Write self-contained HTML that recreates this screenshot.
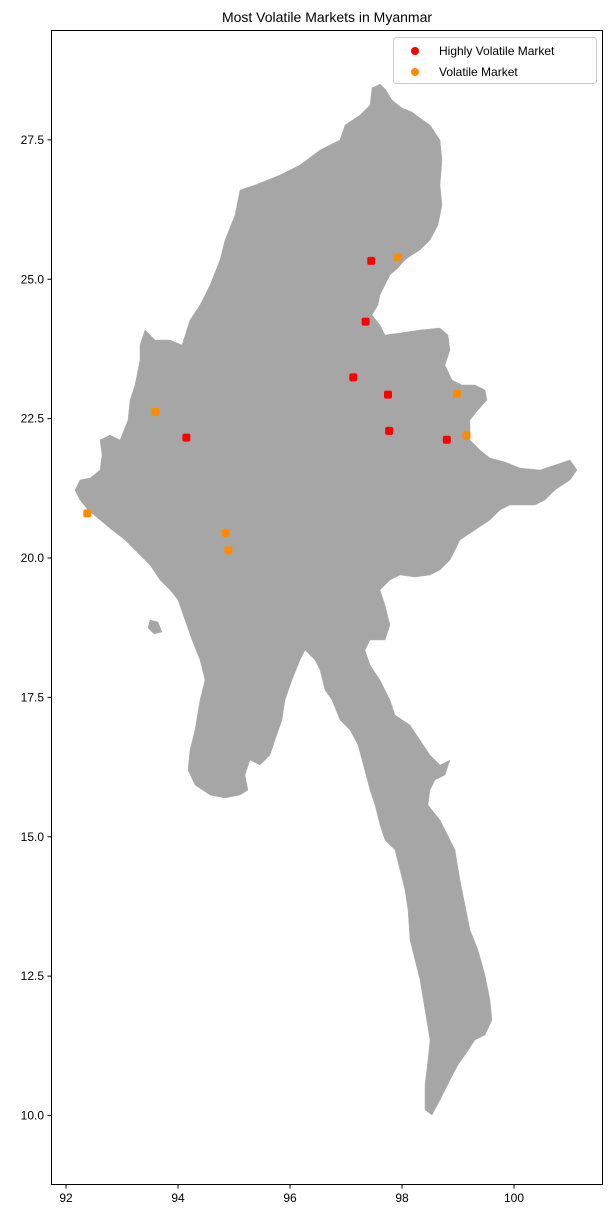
<!DOCTYPE html>
<html><head><meta charset="utf-8"><style>
body{margin:0;background:#fff;}
svg text{font-family:"Liberation Sans","DejaVu Sans",sans-serif;}
</style></head><body>
<svg id="chart" width="612" height="1219" viewBox="0 0 612 1219" xmlns="http://www.w3.org/2000/svg">
<rect width="612" height="1219" fill="#fff"/>
<text x="327" y="22" font-size="14" text-anchor="middle">Most Volatile Markets in Myanmar</text>
<path fill="#a6a6a6" stroke="#b0b0b0" stroke-width="0.5" d="M372,88 L380,84 386,90 392,100 402,108 412,112 420,118 430,125 440,140 442,160 440,185 442,205 438,225 430,240 420,250 412,255 405,260 398,268 390,275 385,285 380,295 378,305 372,315 380,325 385,335 400,333 420,330 440,328 448,335 450,350 445,365 452,380 462,385 475,385 485,390 487,400 478,410 470,420 470,440 480,450 490,458 505,462 520,468 540,470 555,465 570,460 577,470 570,480 555,490 545,500 535,505 525,505 510,505 500,510 490,520 475,530 460,540 450,560 440,570 430,575 415,577 400,575 390,580 380,590 385,605 390,625 385,640 370,640 365,650 370,665 380,680 390,700 395,715 410,725 420,740 430,755 440,765 450,760 445,775 435,780 430,790 428,805 440,820 445,830 455,850 460,880 465,905 470,930 478,950 485,975 490,1000 492,1020 485,1035 475,1040 465,1055 458,1065 450,1080 440,1100 432,1115 425,1110 425,1085 428,1060 430,1040 425,1010 420,980 415,960 410,940 408,910 405,890 400,870 395,850 385,840 380,825 375,805 370,790 362,760 358,745 350,730 340,720 332,700 325,690 320,670 315,660 305,650 300,660 292,680 285,700 282,720 275,740 270,755 260,765 250,760 245,775 248,790 240,795 225,798 210,795 195,785 188,770 190,750 195,730 200,700 205,680 200,660 192,640 185,620 178,600 170,590 160,580 150,565 140,555 125,540 112,530 100,520 88,510 80,500 75,490 80,480 90,478 100,470 102,455 100,440 110,435 120,440 128,420 130,400 135,385 140,360 140,345 145,330 155,340 170,340 182,345 190,320 200,305 210,285 220,260 225,240 235,215 240,190 255,185 280,175 300,165 320,150 340,140 345,125 360,115 370,105 Z M150,620 L158,622 162,632 154,634 148,628 Z"/>
<rect x="51.5" y="30.5" width="551" height="1154" fill="none" stroke="#000" stroke-width="1"/>
<g id="axes"></g>
<g id="points"></g>
<g>
<rect x="393.5" y="37.5" width="203" height="46" rx="3" fill="#fff" fill-opacity="0.8" stroke="#ccc"/>
<circle cx="415" cy="51" r="4" fill="#ff0000"/>
<text x="439" y="55" font-size="12">Highly Volatile Market</text>
<circle cx="415" cy="72" r="4" fill="#ff8c00"/>
<text x="439" y="76" font-size="12">Volatile Market</text>
</g>
</svg>
<script>
const xTicks=[92,94,96,98,100];
const yTicks=[10.0,12.5,15.0,17.5,20.0,22.5,25.0,27.5];
const highLon=[97.45,97.35,97.13,97.75,97.77,98.8,94.15];
const highLat=[25.33,24.24,23.24,22.93,22.28,22.12,22.16];
const volLon=[97.93,93.6,98.98,99.15,92.38,94.85,94.9];
const volLat=[25.39,22.62,22.95,22.2,20.8,20.45,20.14];
const NS="http://www.w3.org/2000/svg";
function sx(lon){return 66+(lon-92)*56;}
function sy(lat){return 558-(lat-20)*55.75;}
const ax=document.getElementById('axes');
function mk(t,a,p){const e=document.createElementNS(NS,t);for(const k in a)e.setAttribute(k,a[k]);p.appendChild(e);return e;}
xTicks.forEach(v=>{
 const x=sx(v);
 const l=mk('line',{x1:x,x2:x,y1:1184.5,y2:1188.5,stroke:'#000'},ax);
 
 
 const t=mk('text',{x:x,y:1202,'font-size':12,'text-anchor':'middle'},ax);
 t.textContent=String(v);
 
 
});
yTicks.forEach(v=>{
 const y=sy(v);
 const l=mk('line',{x1:47.5,x2:51.5,y1:y,y2:y,stroke:'#000'},ax);
 
 
 const t=mk('text',{x:44,y:y+4,'font-size':12,'text-anchor':'end'},ax);
 t.textContent=v.toFixed(1);
 
 
});
const pg=document.getElementById('points');
highLon.forEach((lo,i)=>{
 const c=mk('rect',{x:sx(lo)-4,y:sy(highLat[i])-4,width:8,height:8,rx:2,fill:'#ff0000'},pg);
 
 
});
volLon.forEach((lo,i)=>{
 const c=mk('rect',{x:sx(lo)-4,y:sy(volLat[i])-4,width:8,height:8,rx:2,fill:'#ff8c00'},pg);
 
 
});
</script>
</body></html>
